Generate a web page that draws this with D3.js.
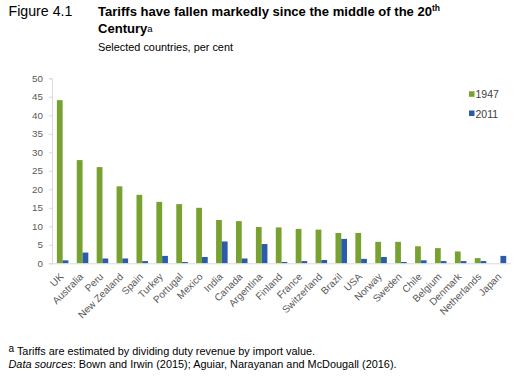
<!DOCTYPE html>
<html><head><meta charset="utf-8">
<script src="https://cdn.jsdelivr.net/npm/d3@7"></script>
<style>
body{margin:0;background:#fff;}
text{font-family:"Liberation Sans",Arial,sans-serif;}
</style></head>
<body>
<svg id="c" width="516" height="377"></svg>
<script>
const categories = ["UK","Australia","Peru","New Zealand","Spain","Turkey","Portugal","Mexico","India","Canada","Argentina","Finland","France","Switzerland","Brazil","USA","Norway","Sweden","Chile","Belgium","Denmark","Netherlands","Japan"];
const values1947 = [44.1,27.9,26.0,20.8,18.5,16.6,16.0,15.0,11.7,11.4,9.8,9.7,9.3,9.1,8.2,8.2,5.8,5.8,4.6,4.1,3.2,1.4,0];
const values2011 = [0.8,2.9,1.3,1.3,0.6,2.0,0.35,1.7,5.9,1.3,5.2,0.35,0.6,0.9,6.6,1.2,1.7,0.35,0.8,0.6,0.6,0.6,2.0];
const seriesNames = ["1947","2011"];
const yTicks = [0,5,10,15,20,25,30,35,40,45,50];
const colors = ["#78a22f","#2a5caa"];

const svg = d3.select("#c");
const x = d3.scaleBand().domain(categories).range([52.7,510.4]).paddingInner(0.42).paddingOuter(0.21);
const xs = d3.scaleBand().domain(seriesNames).range([0,x.bandwidth()]);
const y = d3.scaleLinear().domain([0,50]).range([263.3,78.3]);

// y axis
const ya = svg.append("g").attr("transform","translate(52,0)")
  .call(d3.axisLeft(y).tickValues(yTicks).tickSize(3).tickPadding(6));
ya.select(".domain").attr("stroke","#d9d9d9");
ya.selectAll(".tick line").attr("stroke","#d9d9d9");
ya.selectAll(".tick text").attr("fill","#595959").attr("font-size","9.8px").attr("font-family","Liberation Sans, Arial, sans-serif");

// bars
const series = [values1947, values2011];
series.forEach((vals,si)=>{
  svg.append("g").selectAll("rect").data(categories).join("rect")
    .attr("x",d=>x(d)+xs(seriesNames[si]))
    .attr("width",xs.bandwidth())
    .attr("y",(d,i)=>y(vals[i]))
    .attr("height",(d,i)=>y(0)-y(vals[i]))
    .attr("fill",colors[si]);
});

// x axis
const xa = svg.append("g").attr("transform","translate(0,263.3)")
  .call(d3.axisBottom(x).tickSize(0).tickPadding(0));
xa.select(".domain").attr("stroke","#d9d9d9").attr("d","M52,0.5H510.4");
xa.selectAll(".tick text")
  .attr("fill","#595959").attr("font-size","10px").attr("font-family","Liberation Sans, Arial, sans-serif")
  .attr("text-anchor","end").attr("dy","0").attr("y",0)
  .attr("transform","translate(1.5,14) rotate(-45)");

// legend
const lg = svg.append("g");
seriesNames.forEach((n,i)=>{
  lg.append("rect").attr("x",469).attr("y",91.3+i*19.2).attr("width",5.5).attr("height",5.5).attr("fill",colors[i]);
  lg.append("text").attr("x",475.5).attr("y",98.3+i*19.2).attr("font-size","10.5px").attr("fill","#404040").text(n);
});

// titles
svg.append("text").attr("x",8.5).attr("y",16).attr("font-size","14.2px").attr("fill","#000").text("Figure 4.1");
const t1 = svg.append("text").attr("x",98).attr("y",16).attr("font-size","13.05px").attr("font-weight","bold").attr("fill","#000");
t1.append("tspan").text("Tariffs have fallen markedly since the middle of the 20");
t1.append("tspan").attr("dy","-5.5").attr("font-size","8.5px").text("th");
const t2 = svg.append("text").attr("x",98).attr("y",33.3).attr("font-size","13.05px").attr("font-weight","bold").attr("fill","#000");
t2.append("tspan").text("Century");
t2.append("tspan").attr("font-size","9.5px").attr("font-weight","normal").attr("dy","-1.8").text("a");
svg.append("text").attr("x",98).attr("y",50.7).attr("font-size","10.9px").attr("fill","#000").text("Selected countries, per cent");

// footnotes
const f1 = svg.append("text").attr("x",8.5).attr("y",355).attr("font-size","10.9px").attr("fill","#000");
f1.append("tspan").attr("font-size","10px").attr("dy","-3").text("a");
f1.append("tspan").attr("dy","3").text(" Tariffs are estimated by dividing duty revenue by import value.");
const f2 = svg.append("text").attr("x",8.5).attr("y",368).attr("font-size","10.9px").attr("fill","#000");
f2.append("tspan").attr("font-style","italic").text("Data sources");
f2.append("tspan").text(": Bown and Irwin (2015); Aguiar, Narayanan and McDougall (2016).");
</script>
</body></html>
